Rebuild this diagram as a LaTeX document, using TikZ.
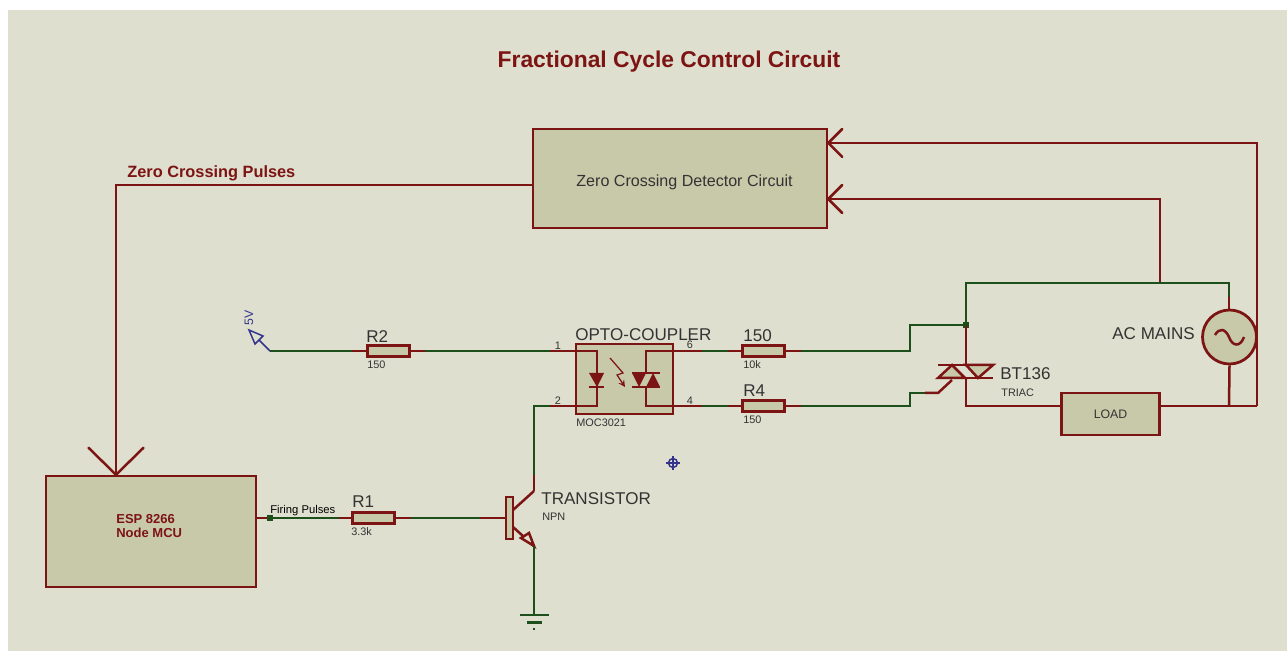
\documentclass[tikz,border=0pt]{standalone}
\usepackage{fontspec}
\setmainfont{Liberation Sans}
\usetikzlibrary{arrows.meta}
\definecolor{sheet}{HTML}{DEDFCE}
\definecolor{part}{HTML}{C8C9A9}
\definecolor{wirered}{HTML}{7D1414}
\definecolor{wiregreen}{HTML}{1C4F1C}
\definecolor{mark}{HTML}{34348C}
\definecolor{ink}{HTML}{333333}
\tikzstyle{block} = [rectangle, 
inner sep=0pt, 
draw=wirered, 
line width=0.055cm, 
fill=part, 
text=ink]
\tikzstyle{resistor} = [block, minimum width=0.84cm, minimum height=0.22cm]
\tikzstyle{biglabel} = [inner sep=0pt, text=ink, anchor=west, font=\fontsize{9.7}{11}\selectfont]
\tikzstyle{smalllabel} = [inner sep=0pt, text=ink, anchor=west, font=\fontsize{6.2}{7}\selectfont]
\tikzstyle{redwire} = [draw=wirered, line width=0.05cm]
\tikzstyle{greenwire} = [draw=wiregreen, line width=0.05cm]
\tikzstyle{thinred} = [draw=wirered, line width=0.025cm]
\tikzstyle{arrow} = [redwire,-{Straight Barb[length=0.28cm,width=0.56cm,round]}]
\tikzstyle{bigarrow} = [redwire,-{Straight Barb[length=0.54cm,width=1.1cm,round]}]
\tikzstyle{junction} = [rectangle, inner sep=0pt, minimum size=0.12cm, fill=wiregreen]

\begin{document}
\begin{tikzpicture}[x=0.02cm,y=-0.02cm]
    \useasboundingbox (0,0) rectangle (1287,651);
    \fill [sheet] (8,10) rectangle (1287,651);

    \node (title) [inner sep=0pt, text=wirered, font=\fontsize{13}{15}\selectfont\bfseries] at (669,62) {Fractional Cycle Control Circuit};

    % Blocks
    \node (zcd) [block, minimum width=5.88cm, minimum height=1.98cm] at (680,178.5) {};
    \node (zcdtext) [inner sep=0pt, text=ink, font=\fontsize{9.15}{11}\selectfont] at (684.5,182) {Zero Crossing Detector Circuit};
    \node (esp) [block, minimum width=4.2cm, minimum height=2.22cm] at (151,531.5) {};
    \node (esptext) [inner sep=0pt, text=wirered, align=left, anchor=west, font=\fontsize{7.4}{8.5}\selectfont\bfseries] at (116,526) {ESP 8266\\Node MCU};
    \node (load) [block, minimum width=1.96cm, minimum height=0.84cm, font=\fontsize{7}{8}\selectfont] at (1110.5,414) {LOAD};
    \node (opto) [block, minimum width=1.94cm, minimum height=1.4cm] at (624.5,379) {};
    \node (mains) [block, circle, minimum size=1.08cm] at (1229.5,337) {};

    % Resistors
    \node (r2) [resistor] at (388.5,351) {};
    \node (r3) [resistor] at (763.5,351) {};
    \node (r4) [resistor] at (763.5,406) {};
    \node (r1) [resistor] at (373.5,518) {};

    % Labels
    \node (zcplabel) [inner sep=0pt, anchor=west, text=wirered, font=\fontsize{9.3}{11}\selectfont\bfseries] at (127,173) {Zero Crossing Pulses};
    \node (r2name) [biglabel] at (366,337) {R2};
    \node (r2value) [smalllabel] at (367,365) {150};
    \node (r3name) [biglabel] at (743,336) {150};
    \node (r3value) [smalllabel] at (743,365) {10k};
    \node (r4name) [biglabel] at (743,391) {R4};
    \node (r4value) [smalllabel] at (743,420) {150};
    \node (r1name) [biglabel] at (352,502) {R1};
    \node (r1value) [smalllabel] at (351,532) {3.3k};
    \node (optoname) [biglabel] at (575,335) {OPTO-COUPLER};
    \node (optotype) [smalllabel] at (576,423) {MOC3021};
    \node (pin1) [smalllabel, anchor=center] at (558,346) {1};
    \node (pin2) [smalllabel, anchor=center] at (558,401) {2};
    \node (pin6) [smalllabel, anchor=center] at (690,345) {6};
    \node (pin4) [smalllabel, anchor=center] at (690,401) {4};
    \node (qname) [biglabel] at (541,499) {TRANSISTOR};
    \node (qtype) [smalllabel] at (542,517) {NPN};
    \node (triacname) [biglabel] at (1000,374) {BT136};
    \node (triactype) [smalllabel] at (1001,393) {TRIAC};
    \node (mainsname) [biglabel] at (1112,334) {AC MAINS};
    \node (firing) [smalllabel, text=black, font=\fontsize{6.4}{7}\selectfont] at (270,511) {Firing Pulses};
    \node (fivev) [smalllabel, anchor=center, rotate=90, text=mark, font=\fontsize{7}{8}\selectfont] at (249,318) {5V};

    % Points on the wires
    \coordinate (zcdout) at (533,185);
    \coordinate (espin) at (116,476);
    \coordinate (zcdtop) at (827,143);
    \coordinate (zcdlow) at (827,199);
    \coordinate (farright) at (1257,406);
    \coordinate (tap) at (1160,283);
    \coordinate (loadin) at (1062,406);
    \coordinate (loadout) at (1160,406);
    \coordinate (acout) at (1229,406);
    \coordinate (acgreen) at (1229,297);
    \coordinate (acin) at (1229,310);
    \coordinate (supply) at (270,351);
    \coordinate (in1) at (576,351);
    \coordinate (in2) at (576,406);
    \coordinate (out6) at (673,351);
    \coordinate (out4) at (673,406);
    \coordinate (mt2) at (966,365);
    \coordinate (mt1) at (966,378);
    \coordinate (gatein) at (938,393);
    \coordinate (base) at (506,518);
    \coordinate (coll) at (534,491);
    \coordinate (emit) at (534,546);
    \coordinate (gnd) at (534,615);
    \node (dottop) [junction] at (966,325) {};
    \node (dotfire) [junction] at (270,518) {};

    % Feedback arcs
    \draw [bigarrow] (zcdout) -| (espin);
    \draw [arrow] (farright) |- (zcdtop);
    \draw [arrow] (tap) |- (zcdlow);
    \draw [redwire] (loadout) -- (farright);
    \draw [redwire] (acin) -- (acgreen);
    \draw [redwire] (mains.south) -- (acout);

    % Mains loop
    \draw [greenwire] (dottop.center) |- (tap) -| (acgreen);
    \draw [redwire] (dottop.center) -- (mt2);
    \draw [redwire] (mt1) |- (loadin);

    % Input side
    \draw [greenwire] (supply) -- (r2.west);
    \draw [redwire] (r2.west) -- ++(-14,0);
    \draw [greenwire] (r2.east) -- (in1);
    \draw [redwire] (r2.east) -- ++(14,0);
    \draw [redwire] (in1) -- ++(-26,0);
    \draw [greenwire] (coll) |- (in2);
    \draw [redwire] (in2) -- ++(-26,0);
    \draw [redwire] (coll) -- ++(0,-16);

    % Output side
    \draw [redwire] (out6) -- ++(29,0);
    \draw [greenwire] (702,351) -- (r3.west);
    \draw [redwire] (r3.west) -- ++(-13,0);
    \draw [redwire] (out4) -- ++(29,0);
    \draw [greenwire] (702,406) -- (r4.west);
    \draw [redwire] (r4.west) -- ++(-13,0);
    \draw [greenwire] (r3.east) -- (910,351) |- (dottop.center);
    \draw [redwire] (r3.east) -- ++(15,0);
    \draw [greenwire] (r4.east) -- (910,406) |- (925,393);
    \draw [redwire] (r4.east) -- ++(15,0);
    \draw [redwire] (925,393) -- (gatein) -- (952,380);

    % Firing side
    \draw [redwire] (esp.east |- dotfire) -- (dotfire);
    \draw [greenwire] (dotfire) -- (r1.west);
    \draw [redwire] (r1.west) -- ++(-12,0);
    \draw [greenwire] (r1.east) -- (base);
    \draw [redwire] (r1.east) -- ++(15,0);
    \draw [redwire] (base) -- ++(-26,0);

    % Transistor
    \draw [redwire] (513,510) -- (coll);
    \draw [redwire] (513,527) -- (emit);
    \filldraw [redwire, fill=part] (506,497) rectangle (513,539);
    \filldraw [redwire, fill=sheet] (emit) -- (521,538) -- (529,533) -- cycle;
    \draw [greenwire] (emit) -- (gnd);
    \draw [greenwire] (520,615) -- (549,615);
    \draw [greenwire] (527,622.5) -- (542,622.5);
    \draw [greenwire] (533,629) -- (535,629);

    % Inside the opto-coupler
    \draw [redwire] (in1) -| (597,406) -- (in2);
    \draw [redwire] (out6) -| (646,373);
    \draw [redwire] (out4) -| (646,387);
    \fill [wirered] (589,373) -- (604,373) -- (597,387) -- cycle;
    \draw [redwire] (589,387) -- (604,387);
    \fill [wirered] (632,373) -- (646,373) -- (639,387) -- cycle;
    \fill [wirered] (646,387) -- (660,387) -- (653,373) -- cycle;
    \draw [redwire] (632,373) -- (660,373);
    \draw [redwire] (632,387) -- (660,387);
    \draw [thinred, ->, >=stealth] (610,358) -- (623,373) -- (617,375) -- (625,387);

    % Triac
    \filldraw [redwire, fill=part] (938,378) -- (952,365) -- (965,378) -- cycle;
    \filldraw [redwire, fill=part] (966,365) -- (993,365) -- (978,378) -- cycle;
    \draw [redwire] (938,365) -- (993,365);
    \draw [redwire] (938,378) -- (993,378);

    % Sine of the mains source
    \draw [redwire] (1215,335) .. controls (1219,328) and (1225,328) .. (1229,337) .. controls (1232,346) and (1240,348) .. (1244,337);

    % 5V terminal
    \draw [draw=mark, line width=0.03cm] (supply) -- (259,340);
    \draw [draw=mark, line width=0.03cm] (249,330) -- (255,344) -- (263,336) -- cycle;

    % Origin marker
    \draw [draw=mark, line width=0.03cm] (673,463) circle (4.5);
    \draw [draw=mark, line width=0.03cm] (666,463) -- (680,463);
    \draw [draw=mark, line width=0.03cm] (673,456) -- (673,470);
\end{tikzpicture}
\end{document}
